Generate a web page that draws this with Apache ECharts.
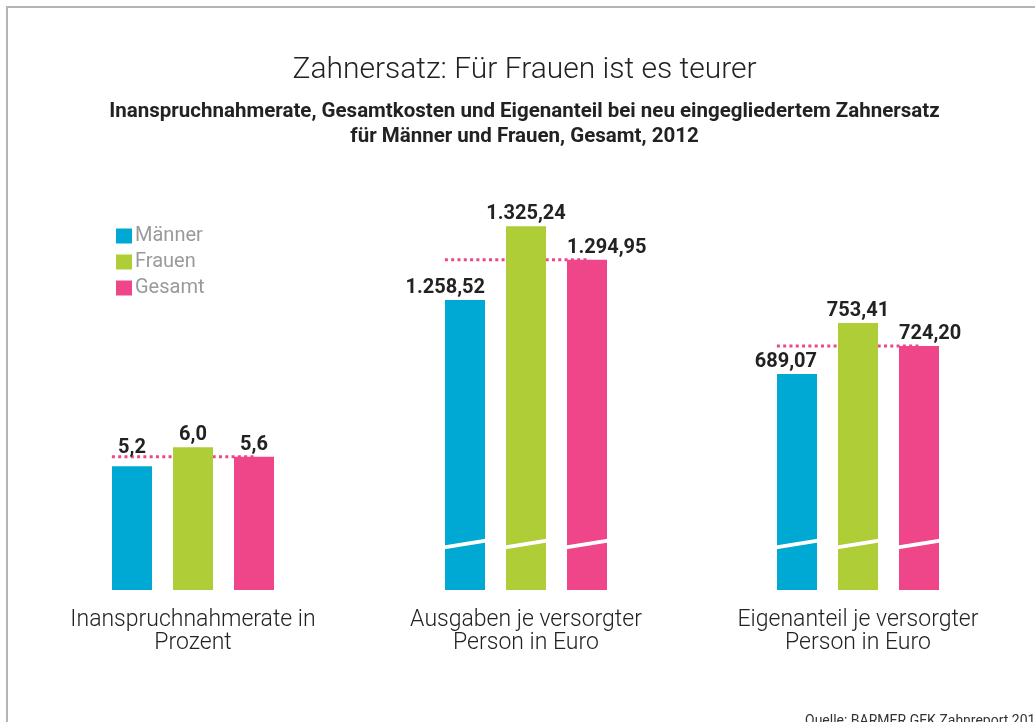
<!DOCTYPE html>
<html>
<head>
<meta charset="utf-8">
<title>Zahnersatz</title>
<script src="https://cdn.jsdelivr.net/npm/echarts@6.0.0/dist/echarts.min.js"></script>
<style>
  html, body { margin: 0; padding: 0; background: #fff; }
  #chart { width: 1035px; height: 722px; }
</style>
</head>
<body>
<div id="chart"></div>
<script>
// Daten
const groups = ['Inanspruchnahmerate in\nProzent', 'Ausgaben je versorgter\nPerson in Euro', 'Eigenanteil je versorgter\nPerson in Euro'];
const seriesNames = ['Männer', 'Frauen', 'Gesamt'];
const maenner = [5.2, 1258.52, 689.07];
const frauen = [6.0, 1325.24, 753.41];
const gesamt = [5.6, 1294.95, 724.20];
const decimals = [1, 2, 2];

// Wertebereich je Gruppe (Gruppe 2 und 3 mit unterbrochener Achse)
const yMin = [0, 996, 417];
const yMax = [10, 1396, 917];

const colors = ['#00a9d3', '#afcd37', '#ef4589'];
const FONT = 'Roboto';
const gridLeft = [101.5, 434.5, 766.5];
const gridTop = [352, 148, 193];

const fmt = (v, d) => {
  const parts = v.toFixed(d).split('.');
  parts[0] = parts[0].replace(/\B(?=(\d{3})+(?!\d))/g, '.');
  return parts.join(',');
};

const values = [maenner, frauen, gesamt];
const grids = [], xAxes = [], yAxes = [], series = [];

groups.forEach((g, i) => {
  grids.push({ left: gridLeft[i], top: gridTop[i], width: 183, bottom: 132 });
  xAxes.push({
    type: 'value', gridIndex: i, min: -0.5, max: 2.5,
    axisLine: { show: false }, axisTick: { show: false }, axisLabel: { show: false }, splitLine: { show: false },
    name: g, nameLocation: 'middle', nameGap: 19,
    nameTextStyle: { fontFamily: FONT, fontWeight: 300, fontSize: 23, lineHeight: 23, color: '#222' }
  });
  yAxes.push({ type: 'value', gridIndex: i, min: yMin[i], max: yMax[i], show: false });

  seriesNames.forEach((name, s) => {
    const v = values[s][i];
    let align = 'center', offset = [0, 0];
    if (i === 0 && s === 0) offset = [0, -6];
    if (i > 0 && s === 0) { align = 'right'; offset = [20, 0]; }
    if (i > 0 && s === 2) { align = 'left'; offset = [-20, 0]; }
    series.push({
      name, type: 'bar', xAxisIndex: i, yAxisIndex: i,
      data: [[s, v]],
      barWidth: 40, barGap: '-100%', z: 2,
      itemStyle: { color: colors[s] },
      label: {
        show: true, position: 'top', distance: 2, align, offset,
        formatter: () => fmt(v, decimals[i]),
        fontFamily: FONT, fontSize: 20, fontWeight: 'bold', color: '#222'
      }
    });
  });

  // gepunktete Linie auf Höhe "Gesamt"
  series.push({
    name: 'Gesamt-Linie', type: 'line', xAxisIndex: i, yAxisIndex: i, z: 1, silent: true,
    symbol: 'none',
    data: [[-0.33, gesamt[i]], [2, gesamt[i]]],
    lineStyle: { color: colors[2], width: 3, type: [3, 3.3] }
  });

  // Achsenbruch
  if (yMin[i] > 0) {
    series.push({
      name: 'Bruch', type: 'custom', xAxisIndex: i, yAxisIndex: i, z: 3, silent: true,
      data: [[0, yMin[i]], [1, yMin[i]], [2, yMin[i]]],
      renderItem: (params, api) => {
        const base = api.coord([api.value(0), api.value(1)]);
        const y = base[1] - 46;
        return {
          type: 'line',
          shape: { x1: base[0] - 21, y1: y + 3.4, x2: base[0] + 21, y2: y - 3.4 },
          style: { stroke: '#fff', lineWidth: 4 }
        };
      }
    });
  }
});

const chart = echarts.init(document.getElementById('chart'));
chart.setOption({
  animation: false,
  backgroundColor: '#fff',
  legend: {
    data: seriesNames, orient: 'vertical', left: 111, top: 221,
    itemWidth: 16, itemHeight: 15, itemGap: 6, icon: 'rect', selectedMode: false,
    textStyle: { fontFamily: FONT, fontSize: 20, color: '#9a9a9a', padding: [0, 0, 0, -2] }
  },
  grid: grids,
  xAxis: xAxes,
  yAxis: yAxes,
  series,
  graphic: [
    { type: 'rect', z: -1, shape: { x: 7, y: 7, width: 1100, height: 800 }, style: { fill: 'none', stroke: '#b4b4b4', lineWidth: 2 } },
    { type: 'text', x: 524.5, y: 70, style: { text: 'Zahnersatz: Für Frauen ist es teurer', align: 'center', verticalAlign: 'middle', fontFamily: FONT, fontWeight: 300, fontSize: 30, fill: '#222' } },
    { type: 'text', x: 524.5, y: 124.5, style: { text: 'Inanspruchnahmerate, Gesamtkosten und Eigenanteil bei neu eingegliedertem Zahnersatz\nfür Männer und Frauen, Gesamt, 2012', align: 'center', verticalAlign: 'middle', fontFamily: FONT, fontWeight: 'bold', fontSize: 20.5, lineHeight: 25, fill: '#222' } },
    { type: 'text', x: 805, y: 714, style: { text: 'Quelle: BARMER GEK Zahnreport 2014', fontFamily: FONT, fontSize: 14, fill: '#333' } }
  ]
});
</script>
</body>
</html>
